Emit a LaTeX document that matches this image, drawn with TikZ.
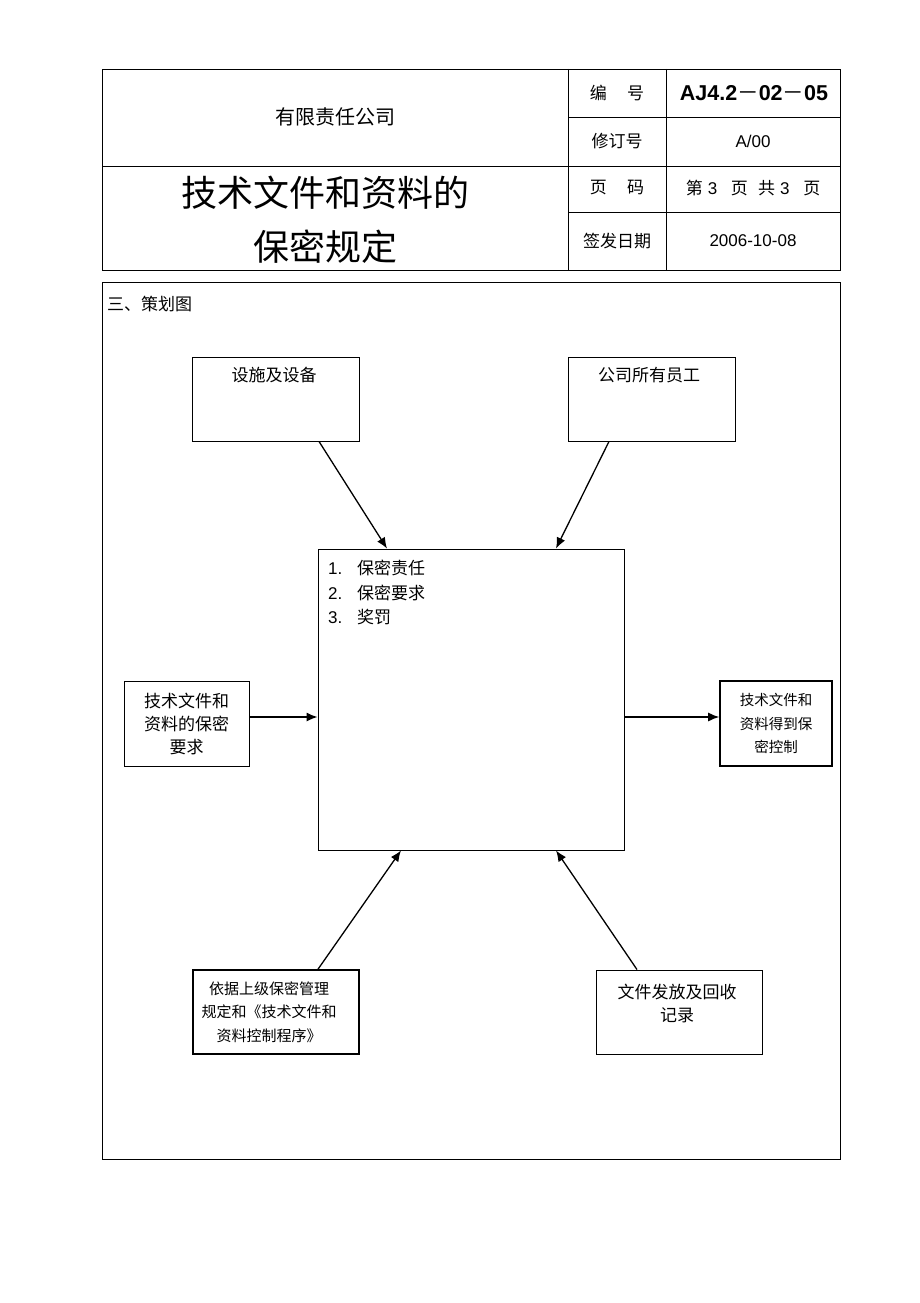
\documentclass[tikz,border=0pt]{standalone}
\usepackage{fontspec}
\setmainfont{Noto Sans CJK SC}
\newfontfamily\lat{Liberation Sans}
\usetikzlibrary{arrows.meta}

\begin{document}
\begin{tikzpicture}[x=1pt,y=-1pt,
	box/.style={draw,line width=0.9pt,inner sep=0pt,align=center},
	heavybox/.style={box,line width=1.6pt},
	arr/.style={line width=1.3pt,-{Latex[length=11pt,width=9pt]}},
	txt/.style={inner sep=0pt,align=center,font=\fontsize{17}{24}\selectfont}]
	\fill[white] (0,0) rectangle (920,1303);
	\useasboundingbox (0,0) rectangle (920,1303);

	\draw[line width=0.9pt] (102,69) rectangle (840,270);
	\draw[line width=0.9pt] (102,166) -- (840,166);
	\draw[line width=0.9pt] (568,69) -- (568,270);
	\draw[line width=0.9pt] (666,69) -- (666,270);
	\draw[line width=0.9pt] (568,117) -- (840,117);
	\draw[line width=0.9pt] (568,212) -- (840,212);
	\node[txt,font=\fontsize{20}{24}\selectfont] (gongsi) at (335,117) {有限责任公司};
	\node[txt,font=\fontsize{36}{54}\selectfont] (biaoti) at (325,220) {技术文件和资料的\\保密规定};
	\node[txt] (bianhao) at (617,93) {编\hspace{1.2em}号};
	\node[txt,font=\fontsize{21.5}{24}\selectfont] (daihao) at (754,93) {{\lat\bfseries AJ4.2}－{\lat\bfseries 02}－{\lat\bfseries 05}};
	\node[txt] (xiuding) at (617,141) {修订号};
	\node[txt] (banben) at (753,141) {\lat A/00};
	\node[txt] (yema) at (617,188) {页\hspace{1.2em}码};
	\node[txt] (yeshu) at (753,188) {第\hspace{0.3em}{\lat 3}\hspace{0.8em}页\hspace{0.6em}共\hspace{0.3em}{\lat 3}\hspace{0.8em}页};
	\node[txt] (qianfa) at (617,241) {签发日期};
	\node[txt] (riqi) at (753,241) {\lat 2006-10-08};

	\draw[line width=0.9pt] (102,282) rectangle (840,1159);
	\node[txt,anchor=west] (cehua) at (107,304) {三、策划图};

	\node[box,minimum width=167,minimum height=84] (sheshi) at (275.5,399) {};
	\node[txt] (sheshi-t) at (274,375) {设施及设备};
	\node[box,minimum width=167,minimum height=84] (yuangong) at (651.5,399) {};
	\node[txt] (yuangong-t) at (649,375) {公司所有员工};
	\node[box,minimum width=306,minimum height=301] (baomi) at (471,699.5) {};
	\node[txt,anchor=north west,align=left,font=\fontsize{17}{24.5}\selectfont] (liebiao) at (328,560)
		{\makebox[29pt][l]{\lat 1.}保密责任\\\makebox[29pt][l]{\lat 2.}保密要求\\\makebox[29pt][l]{\lat 3.}奖罚};
	\node[box,minimum width=125,minimum height=85,font=\fontsize{17}{23}\selectfont] (yaoqiu) at (186.5,723.5) {技术文件和\\资料的保密\\要求};
	\node[heavybox,minimum width=112,minimum height=85,font=\fontsize{14.5}{23.5}\selectfont] (kongzhi) at (776,723.5) {技术文件和\\资料得到保\\密控制};
	\node[heavybox,minimum width=166,minimum height=84] (yiju) at (276,1012) {};
	\node[txt,font=\fontsize{15}{23.5}\selectfont] (yiju-t) at (269,1012) {依据上级保密管理\\规定和《技术文件和\\资料控制程序》};
	\node[box,minimum width=166,minimum height=84] (jilu) at (679,1012) {};
	\node[txt,font=\fontsize{17}{23}\selectfont] (jilu-t) at (677,1003.5) {文件发放及回收\\记录};

	\draw[arr] ([xshift=43.5]sheshi.south) -- ([xshift=-84]baomi.north);
	\draw[arr] ([xshift=-42.5]yuangong.south) -- ([xshift=85]baomi.north);
	\draw[arr] ([yshift=6.5]yaoqiu.east) -- ([yshift=6.5]yaoqiu.east -| baomi.west);
	\draw[arr] ([yshift=6.5]kongzhi.west -| baomi.east) -- ([yshift=6.5]kongzhi.west);
	\draw[arr] ([xshift=42]yiju.north) -- ([xshift=-70]baomi.south);
	\draw[arr] ([xshift=-42]jilu.north) -- ([xshift=85]baomi.south);

\end{tikzpicture}
\end{document}
